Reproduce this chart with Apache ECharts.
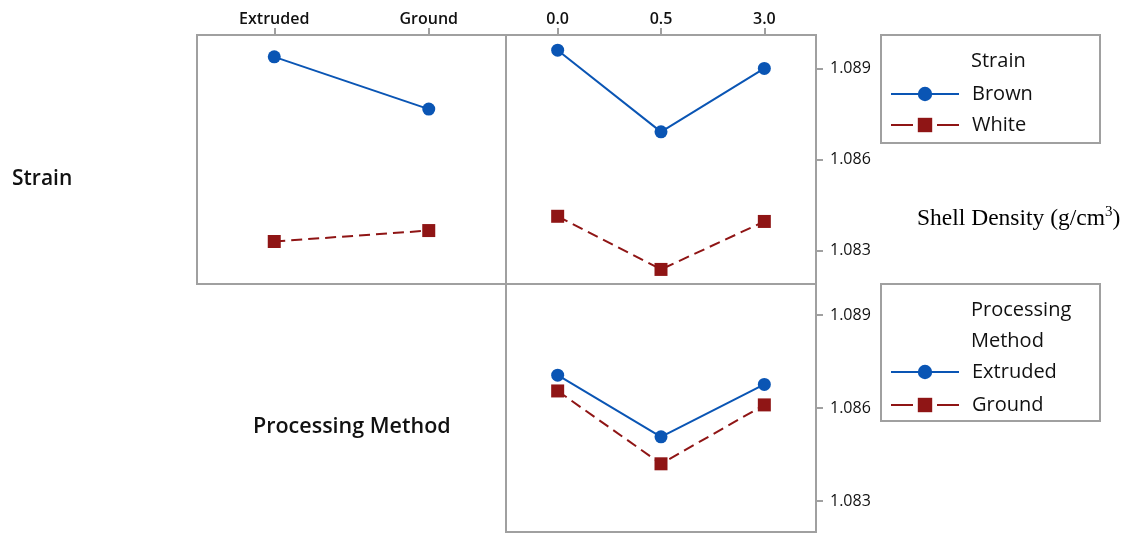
<!DOCTYPE html>
<html>
<head>
<meta charset="utf-8">
<script src="https://cdn.jsdelivr.net/npm/echarts@6/dist/echarts.min.js"></script>
<style>
html,body{margin:0;padding:0;background:#fff;}
#chart{width:1133px;height:534px;}
</style>
</head>
<body>
<div id="chart"></div>
<script>
// ---- data ----
const procCats = ['Extruded', 'Ground'];
const levelCats = ['0.0', '0.5', '3.0'];
const yTicks = [1.083, 1.086, 1.089];
const brownByProc = [1.08938, 1.08766];
const whiteByProc = [1.0833, 1.08366];
const brownByLevel = [1.0896, 1.08691, 1.0890];
const whiteByLevel = [1.08413, 1.08238, 1.08396];
const extrudedByLevel = [1.08706, 1.08507, 1.08676];
const groundByLevel = [1.08655, 1.0842, 1.0861];

const BLUE = '#0a55b4';
const RED = '#8f1515';
const GRAY = '#a0a0a0';
const TXT = '#111111';
const FONT = "'Open Sans', sans-serif";

const chart = echarts.init(document.getElementById('chart'));

function xAxisTop(gridIndex, cats, showLabels) {
  return {
    type: 'category', gridIndex: gridIndex, data: cats, position: 'top',
    boundaryGap: true,
    axisLine: {show: false},
    axisTick: {show: showLabels, alignWithLabel: true, length: 7, lineStyle: {color: GRAY, width: 2}},
    axisLabel: {show: showLabels, margin: 8, fontSize: 16, fontWeight: 600, color: TXT, fontFamily: FONT},
    splitLine: {show: false}
  };
}
function yAxisRight(gridIndex, min, max, show) {
  return {
    type: 'value', gridIndex: gridIndex, position: 'right', min: min, max: max,
    axisLine: {show: false},
    axisTick: {show: show, length: 7, customValues: yTicks, lineStyle: {color: GRAY, width: 2}},
    axisLabel: {show: show, margin: 14, fontSize: 16, fontWeight: 500, color: TXT, fontFamily: FONT, customValues: yTicks,
      formatter: v => v.toFixed(3)},
    splitLine: {show: false}
  };
}
function lineSeries(name, xi, yi, data, color, dashed, symbol) {
  return {
    type: 'line', name: name, xAxisIndex: xi, yAxisIndex: yi, data: data,
    symbol: symbol, symbolSize: 13,
    itemStyle: {color: color},
    lineStyle: {color: color, width: 2, type: dashed ? [11, 6] : 'solid'},
    animation: false, silent: true
  };
}
const legendDash = {type: [22, 24], width: 2};
const legendText = {fontSize: 20, fontWeight: 500, color: TXT, fontFamily: FONT, padding: [0, 0, 0, 8]};

const option = {
  backgroundColor: '#fff',
  animation: false,
  grid: [
    {left: 197, top: 35, width: 309, height: 249, show: true, borderColor: GRAY, borderWidth: 2, backgroundColor: 'transparent'},
    {left: 506, top: 35, width: 310, height: 249, show: true, borderColor: GRAY, borderWidth: 2, backgroundColor: 'transparent'},
    {left: 506, top: 284, width: 310, height: 248, show: true, borderColor: GRAY, borderWidth: 2, backgroundColor: 'transparent'}
  ],
  xAxis: [
    xAxisTop(0, procCats, true),
    xAxisTop(1, levelCats, true),
    xAxisTop(2, levelCats, false)
  ],
  yAxis: [
    yAxisRight(0, 1.0819, 1.0901, false),
    yAxisRight(1, 1.0819, 1.0901, true),
    yAxisRight(2, 1.0820, 1.0900, true)
  ],
  legend: [
    {data: ['Brown', {name: 'White', lineStyle: legendDash}], orient: 'vertical', left: 890, top: 84,
     itemWidth: 68, itemHeight: 18, itemGap: 11, selectedMode: false, padding: 0, textStyle: legendText},
    {data: ['Extruded', {name: 'Ground', lineStyle: legendDash}], orient: 'vertical', left: 890, top: 362,
     itemWidth: 68, itemHeight: 18, itemGap: 13, selectedMode: false, padding: 0, textStyle: legendText}
  ],
  graphic: [
    {type: 'rect', shape: {x: 881, y: 35, width: 219, height: 108}, style: {fill: 'none', stroke: GRAY, lineWidth: 2}, silent: true},
    {type: 'rect', shape: {x: 881, y: 284, width: 219, height: 137}, style: {fill: 'none', stroke: GRAY, lineWidth: 2}, silent: true},
    {type: 'text', left: 971, top: 51, style: {text: 'Strain', fontSize: 20, fontWeight: 500, fill: TXT, fontFamily: FONT}},
    {type: 'text', left: 971, top: 300, style: {text: 'Processing', fontSize: 20, fontWeight: 500, fill: TXT, fontFamily: FONT}},
    {type: 'text', left: 971, top: 331, style: {text: 'Method', fontSize: 20, fontWeight: 500, fill: TXT, fontFamily: FONT}},
    {type: 'text', left: 12, top: 169, style: {text: 'Strain', fontSize: 21, fontWeight: 600, fill: TXT, fontFamily: FONT}},
    {type: 'text', left: 253, top: 416, style: {text: 'Processing Method', fontSize: 21.5, fontWeight: 600, fill: TXT, fontFamily: FONT}},
    {type: 'text', left: 917, top: 205, style: {
      text: '{a|Shell Density (g/cm}{s|3}{a|)}',
      rich: {
        a: {fontSize: 23.5, fontFamily: "'Liberation Serif', serif", fill: '#000', lineHeight: 27},
        s: {fontSize: 15, fontFamily: "'Liberation Serif', serif", fill: '#000', lineHeight: 27, verticalAlign: 'top', padding: [0, 0, 10, 0]}
      }
    }}
  ],
  series: [
    lineSeries('Brown', 0, 0, brownByProc, BLUE, false, 'circle'),
    lineSeries('White', 0, 0, whiteByProc, RED, true, 'rect'),
    lineSeries('Brown', 1, 1, brownByLevel, BLUE, false, 'circle'),
    lineSeries('White', 1, 1, whiteByLevel, RED, true, 'rect'),
    lineSeries('Extruded', 2, 2, extrudedByLevel, BLUE, false, 'circle'),
    lineSeries('Ground', 2, 2, groundByLevel, RED, true, 'rect')
  ]
};
chart.setOption(option);
</script>
</body>
</html>
